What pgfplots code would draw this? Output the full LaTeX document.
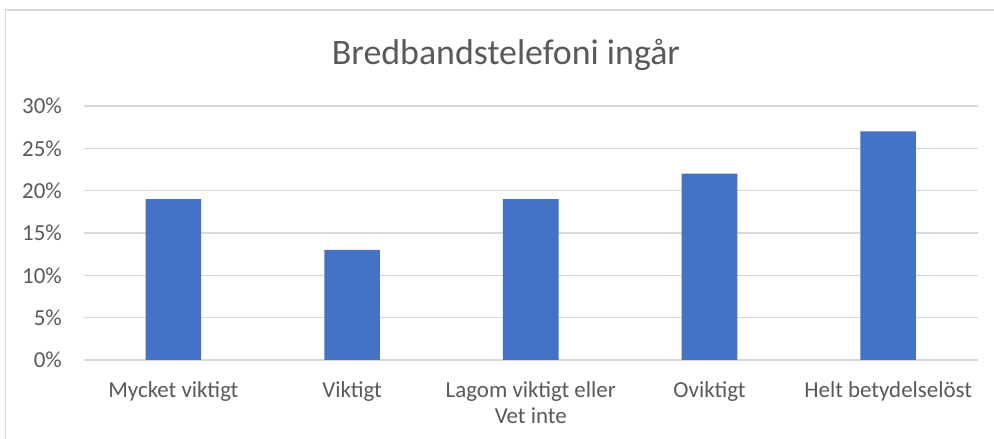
\documentclass[border=0pt]{standalone}
\usepackage{pgfplots}
\pgfplotsset{compat=1.18}
\usepackage{fontspec}
\setmainfont{Carlito}
\definecolor{txt}{HTML}{595959}
\definecolor{grd}{HTML}{D9D9D9}
\definecolor{bar}{HTML}{4472C4}
\begin{document}
\begin{tikzpicture}[x=1bp,y=1bp]
\useasboundingbox (0,0) rectangle (994,439);
\draw[grd, line width=1.2bp] (5.5,0) -- (5.5,429) -- (994,429);
\node[txt, font={\fontsize{36}{40}\selectfont}, anchor=base] at (506,374) {Bredbandstelefoni ingår};
\begin{axis}[
  at={(84bp,79bp)}, anchor=south west,
  scale only axis, width=893.5bp, height=254bp,
  xmin=-0.5, xmax=4.5, ymin=0, ymax=30,
  axis line style={draw=none},
  ytick={0,5,10,15,20,25,30},
  yticklabel={\pgfmathprintnumber{\tick}\%},
  yticklabel style={txt, font={\fontsize{23}{26}\selectfont}, anchor=east, inner sep=0pt, xshift=-22bp},
  /pgf/number format/assume math mode=true,
  xtick=data,
  xticklabels={Mycket viktigt, Viktigt, {Lagom viktigt eller\\Vet inte}, Oviktigt, Helt betydelselöst},
  xticklabel style={txt, font={\fontsize{23}{26}\selectfont}, align=center, anchor=north, inner sep=0pt, yshift=-21bp},
  major tick length=0pt,
  ymajorgrids, grid style={grd, line width=1.2bp},
  ybar, bar width=55.6bp,
]
\addplot[fill=bar, draw=none] coordinates {(0,19) (1,13) (2,19) (3,22) (4,27)};
\end{axis}
\end{tikzpicture}
\end{document}
